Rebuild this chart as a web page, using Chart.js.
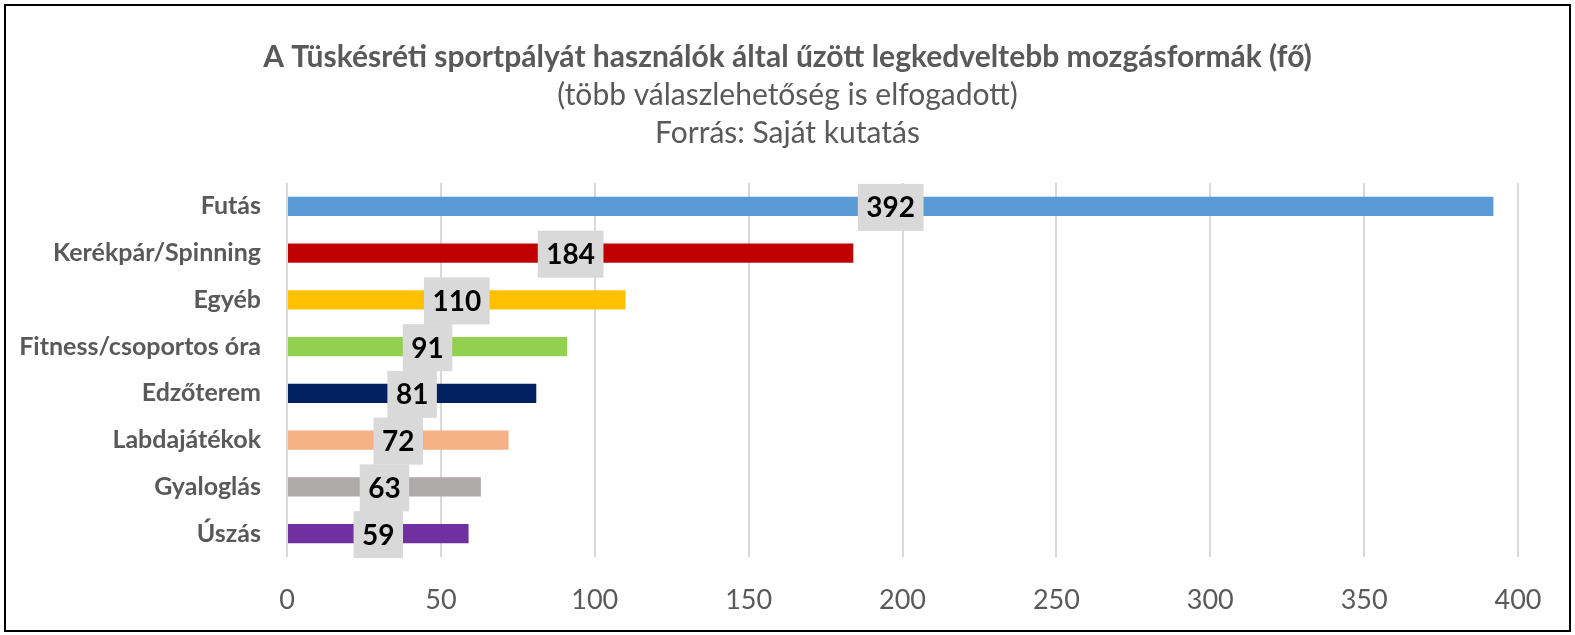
<!DOCTYPE html>
<html>
<head>
<meta charset="utf-8">
<script src="https://cdn.jsdelivr.net/npm/chart.js@4.4.1/dist/chart.umd.min.js"></script>
<style>
    html, body { margin: 0; padding: 0; background: #fff; }
    #wrap { position: relative; width: 1575px; height: 635px; }
    #frame {
        position: absolute; left: 4px; top: 4px; width: 1563px; height: 624px;
        border: 2px solid #000; pointer-events: none;
    }
</style>
</head>
<body>
<div id="wrap">
    <canvas id="sportChart"></canvas>
    <div id="frame"></div>
</div>
<script>
const categories = [
    "Futás",
    "Kerékpár/Spinning",
    "Egyéb",
    "Fitness/csoportos óra",
    "Edzőterem",
    "Labdajátékok",
    "Gyaloglás",
    "Úszás",
];
const counts = [392, 184, 110, 91, 81, 72, 63, 59];
const axisMin = 0;
const axisMax = 400;
const axisStep = 50;

const barColors = [
    "#5b9bd5",
    "#c00000",
    "#ffc000",
    "#92d050",
    "#002060",
    "#f4b183",
    "#aeaaaa",
    "#7030a0",
];
const textGrey = "#595959";
const fontName = "Lato";

// value labels in grey boxes, drawn in the middle of each bar
const boxLabels = {
    id: "boxLabels",
    afterDatasetsDraw(chart) {
        const ctx = chart.ctx;
        const meta = chart.getDatasetMeta(0);
        ctx.save();
        ctx.font = "bold 28px " + fontName;
        ctx.textAlign = "center";
        ctx.textBaseline = "middle";
        meta.data.forEach((bar, i) => {
            const text = String(chart.data.datasets[0].data[i]);
            const cx = (bar.x + bar.base) / 2;
            const cy = bar.y + 1;
            const w = ctx.measureText(text).width + 17;
            const h = 47;
            ctx.fillStyle = "#d9d9d9";
            ctx.fillRect(cx - w / 2, cy - h / 2, w, h);
            ctx.fillStyle = "#000";
            ctx.fillText(text, cx, cy + 1);
        });
        ctx.restore();
    },
};

// titles span the whole canvas, not just the padded area, so they sit centred
const centreTitles = {
    id: "centreTitles",
    afterLayout(chart) {
        chart.boxes.forEach((box) => {
            if (box.position === "top") {
                box.left = 0;
                box.right = chart.width;
                box.width = chart.width;
            }
        });
    },
};

const ctx = document.getElementById("sportChart").getContext("2d");

new Chart(ctx, {
    type: "bar",
    data: {
        labels: categories,
        datasets: [
            {
                label: "fő",
                data: counts,
                backgroundColor: barColors,
                borderWidth: 0,
                barPercentage: 0.41,
                categoryPercentage: 1,
            },
        ],
    },
    options: {
        indexAxis: "y",
        responsive: true,
        maintainAspectRatio: false,
        animation: false,
        layout: {
            padding: { left: 0, right: 57, top: 0, bottom: 0 },
        },
        scales: {
            x: {
                min: axisMin,
                max: axisMax,
                afterFit(scale) {
                    scale.height = 78;
                },
                ticks: {
                    stepSize: axisStep,
                    color: textGrey,
                    padding: 27,
                    font: { family: fontName, size: 27 },
                },
                grid: { color: "#d9d9d9", lineWidth: 2, drawTicks: false },
                border: { display: false },
            },
            y: {
                afterFit(scale) {
                    scale.width = 287;
                },
                ticks: {
                    color: textGrey,
                    padding: 26,
                    font: { family: fontName, size: 25, weight: "bold" },
                },
                grid: { display: false, drawTicks: false },
                border: { display: false },
            },
        },
        plugins: {
            legend: { display: false },
            tooltip: { enabled: false },
            title: {
                display: true,
                text: "A Tüskésréti sportpályát használók által űzött legkedveltebb mozgásformák (fő)",
                color: textGrey,
                font: { family: fontName, size: 30, weight: "bold" },
                padding: { top: 39, bottom: 1 },
            },
            subtitle: {
                display: true,
                text: ["(több válaszlehetőség is elfogadott)", "Forrás: Saját kutatás"],
                color: textGrey,
                font: { family: fontName, size: 30, weight: "normal", lineHeight: 1.267 },
                padding: { top: 0, bottom: 31 },
            },
        },
    },
    plugins: [boxLabels, centreTitles],
});
</script>
</body>
</html>
